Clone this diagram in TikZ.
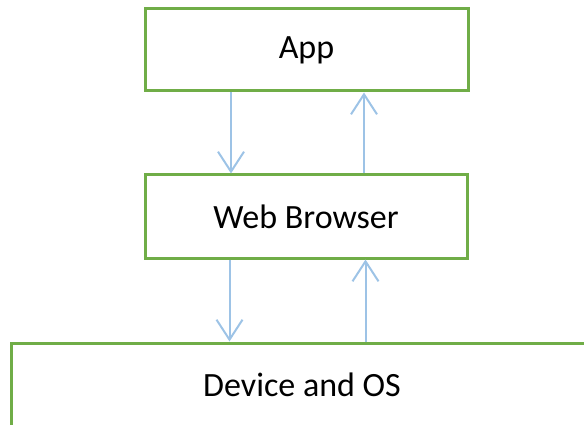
\documentclass[tikz,border=0pt]{standalone}
\usepackage{fontspec}
\setmainfont{Carlito}
\usetikzlibrary{arrows.meta}
\definecolor{boxgreen}{HTML}{70AD47}
\definecolor{arrowblue}{HTML}{9DC3E6}
\tikzset{
  layer/.style={draw=boxgreen, line width=3pt, fill=white, inner sep=0pt,
    font=\fontsize{34}{40}\selectfont, text=black},
  flow/.style={draw=arrowblue, line width=2pt,
    -{Straight Barb[length=20pt, width=26pt, line width=2pt]}}
}
\begin{document}
\begin{tikzpicture}[x=1pt, y=-1pt]
  \useasboundingbox (0,0) rectangle (584,425);
  \clip (0,0) rectangle (584,425);

  % the three layers of the stack
  \node[layer, minimum width=323pt, minimum height=82pt] (app) at (306.5,50) {App};
  \node[layer, minimum width=322pt, minimum height=83pt] (web) at (306,216.5) {Web Browser};
  \node[layer, minimum width=582pt, minimum height=83pt] (dev) at (302,384.5) {Device and OS};

  % columns for the downward and upward connectors
  \coordinate (downA) at (231,0);
  \coordinate (upA) at (364,0);
  \coordinate (downB) at (229.5,0);
  \coordinate (upB) at (365.5,0);

  \draw[flow] (app.south -| downA) -- (web.north -| downA);
  \draw[flow] (web.north -| upA) -- (app.south -| upA);
  \draw[flow] (web.south -| downB) -- (dev.north -| downB);
  \draw[flow] (dev.north -| upB) -- (web.south -| upB);
\end{tikzpicture}
\end{document}
